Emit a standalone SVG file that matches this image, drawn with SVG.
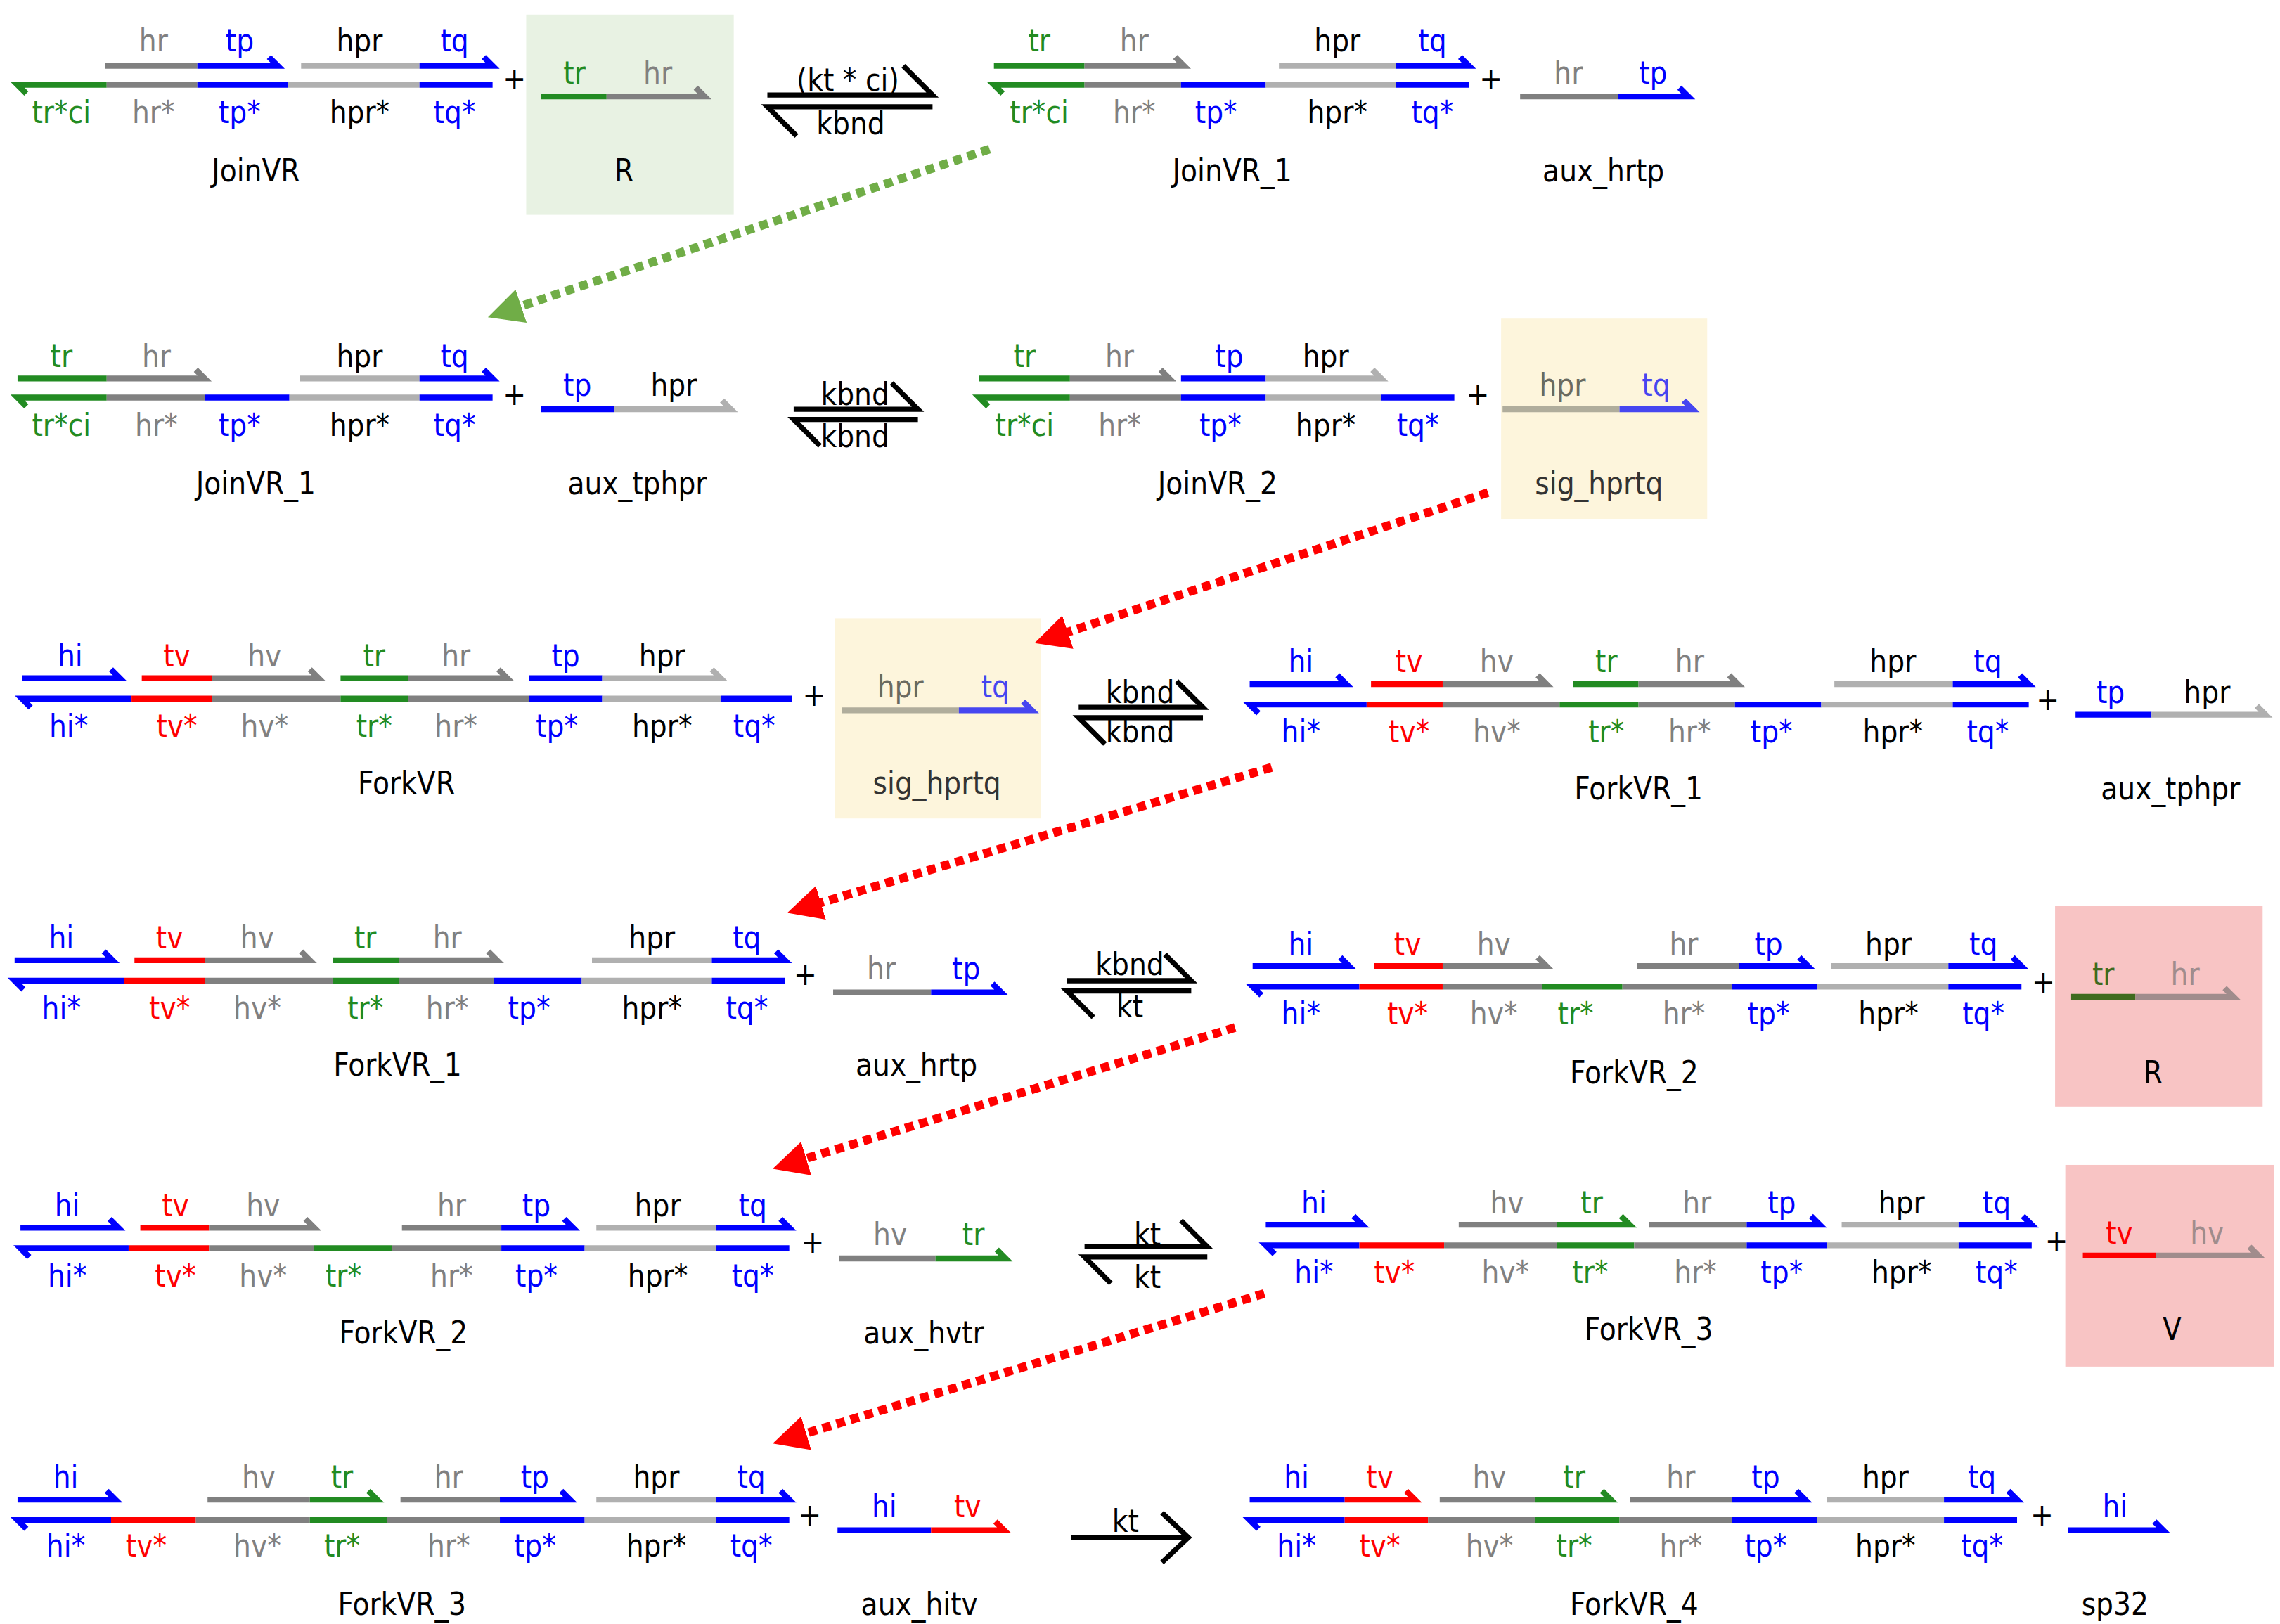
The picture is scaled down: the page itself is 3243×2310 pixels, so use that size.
<svg xmlns="http://www.w3.org/2000/svg" width="3243" height="2310" viewBox="0 0 3243 2310">
<style>
path{fill:none;stroke-width:4}
.b{stroke:#0000ff}.g{stroke:#228b22}.r{stroke:#ff0000}.k{stroke:#808080}.l{stroke:#b0b0b0}.o{stroke:#3f6b1f}.m{stroke:#a08c8c}.x{stroke:#000;stroke-width:3.5}
text{font-family:"DejaVu Sans Condensed","DejaVu Sans",sans-serif;font-size:21px;text-anchor:middle;fill:#000}
.tb{fill:#0000ff}.tg{fill:#228b22}.tr{fill:#ff0000}.tk{fill:#808080}.to{fill:#3f6b1f}.tm{fill:#a08c8c}.tq{fill:#4646f0}
.dg{stroke:#70ad47;stroke-width:6;stroke-dasharray:6 4}
.dr{stroke:#ff0000;stroke-width:6;stroke-dasharray:6 4}
</style>
<defs>
<marker id="ag" viewBox="0 0 10 10" refX="2" refY="5" markerWidth="4" markerHeight="4" orient="auto"><path d="M0,0L10,5L0,10z" style="fill:#70ad47;stroke:none"/></marker>
<marker id="ar" viewBox="0 0 10 10" refX="2" refY="5" markerWidth="4" markerHeight="4" orient="auto"><path d="M0,0L10,5L0,10z" style="fill:#ff0000;stroke:none"/></marker>
</defs>
<rect width="3243" height="2310" fill="#fff"/>
<g transform="scale(2.079)">
<g id="JoinVR">
<path class="k" d="M72 45H135"/><path class="b" d="M135 45H190l-6-6"/><path class="l" d="M206 45H287"/><path class="b" d="M287 45H337l-6-6"/>
<path class="g" d="M18 64l-6-6H73"/><path class="k" d="M73 58H135"/><path class="b" d="M135 58H197"/><path class="l" d="M197 58H287"/><path class="b" d="M287 58H337"/>
<text class="tk" x="105" y="35">hr</text><text class="tb" x="164" y="35">tp</text><text x="246" y="35">hpr</text><text class="tb" x="311" y="35">tq</text>
<text class="tg" x="42" y="84">tr*ci</text><text class="tk" x="105" y="84">hr*</text><text class="tb" x="164" y="84">tp*</text><text x="246" y="84">hpr*</text><text class="tb" x="311" y="84">tq*</text>
<text x="175" y="124">JoinVR</text><text x="352" y="61">+</text>
</g>
<g id="R1">
<rect x="360" y="10" width="142" height="137" fill="#e8f2e3"/>
<path class="g" d="M370 66H415"/><path class="k" d="M415 66H482l-6-6"/>
<text class="tg" x="393" y="57">tr</text><text class="tk" x="450" y="57">hr</text><text x="427" y="124">R</text>
</g>
<g id="JoinVR_1a">
<path class="g" d="M680 45H742"/><path class="k" d="M742 45H810l-6-6"/><path class="l" d="M875 45H955"/><path class="b" d="M955 45H1005l-6-6"/>
<path class="g" d="M686 64l-6-6H742"/><path class="k" d="M742 58H808"/><path class="b" d="M808 58H866"/><path class="l" d="M866 58H955"/><path class="b" d="M955 58H1005"/>
<text class="tg" x="711" y="35">tr</text><text class="tk" x="776" y="35">hr</text><text x="915" y="35">hpr</text><text class="tb" x="980" y="35">tq</text>
<text class="tg" x="711" y="84">tr*ci</text><text class="tk" x="776" y="84">hr*</text><text class="tb" x="832" y="84">tp*</text><text x="915" y="84">hpr*</text><text class="tb" x="980" y="84">tq*</text>
<text x="843" y="124">JoinVR_1</text><text x="1020" y="61">+</text>
</g>
<g id="aux_hrtp1">
<path class="k" d="M1040 66H1107"/><path class="b" d="M1107 66H1155l-6-6"/>
<text class="tk" x="1073" y="57">hr</text><text class="tb" x="1131" y="57">tp</text><text x="1097" y="124">aux_hrtp</text>
</g>
<g id="JoinVR_1b">
<path class="g" d="M12 259H73"/><path class="k" d="M73 259H140l-6-6"/><path class="l" d="M205 259H287"/><path class="b" d="M287 259H337l-6-6"/>
<path class="g" d="M18 278l-6-6H73"/><path class="k" d="M73 272H140"/><path class="b" d="M140 272H198"/><path class="l" d="M198 272H287"/><path class="b" d="M287 272H337"/>
<text class="tg" x="42" y="251">tr</text><text class="tk" x="107" y="251">hr</text><text x="246" y="251">hpr</text><text class="tb" x="311" y="251">tq</text>
<text class="tg" x="42" y="298">tr*ci</text><text class="tk" x="107" y="298">hr*</text><text class="tb" x="164" y="298">tp*</text><text x="246" y="298">hpr*</text><text class="tb" x="311" y="298">tq*</text>
<text x="175" y="338">JoinVR_1</text><text x="352" y="277">+</text>
</g>
<g id="aux_tphpr1">
<path class="b" d="M370 280H420"/><path class="l" d="M420 280H500l-6-6"/>
<text class="tb" x="395" y="271">tp</text><text x="461" y="271">hpr</text><text x="436" y="338">aux_tphpr</text>
</g>
<g id="JoinVR_2">
<path class="g" d="M670 259H732"/><path class="k" d="M732 259H800l-6-6"/><path class="b" d="M808 259H866"/><path class="l" d="M866 259H945l-6-6"/>
<path class="g" d="M676 278l-6-6H732"/><path class="k" d="M732 272H808"/><path class="b" d="M808 272H866"/><path class="l" d="M866 272H945"/><path class="b" d="M945 272H995"/>
<text class="tg" x="701" y="251">tr</text><text class="tk" x="766" y="251">hr</text><text class="tb" x="841" y="251">tp</text><text x="907" y="251">hpr</text>
<text class="tg" x="701" y="298">tr*ci</text><text class="tk" x="766" y="298">hr*</text><text class="tb" x="835" y="298">tp*</text><text x="907" y="298">hpr*</text><text class="tb" x="970" y="298">tq*</text>
<text x="833" y="338">JoinVR_2</text><text x="1011" y="277">+</text>
</g>
<g id="sig_hprtq1">
<rect x="1027" y="218" width="141" height="137" fill="#fdf5dc"/>
<path class="l" d="M1028 280H1108" style="stroke:#b0ad9c"/><path class="b" d="M1108 280H1158l-6-6" style="stroke:#4646f0"/>
<text class="tk" x="1069" y="271" style="fill:#6a6a60">hpr</text><text class="tq" x="1133" y="271">tq</text><text x="1094" y="338" style="fill:#333">sig_hprtq</text>
</g>
<g id="ForkVR">
<path class="b" d="M15 464H82l-6-6"/><path class="r" d="M97 464H145"/><path class="k" d="M145 464H218l-6-6"/><path class="g" d="M233 464H279"/><path class="k" d="M279 464H347l-6-6"/><path class="b" d="M362 464H412"/><path class="l" d="M412 464H493l-6-6"/>
<path class="b" d="M21 484l-6-6H90"/><path class="r" d="M90 478H145"/><path class="k" d="M145 478H233"/><path class="g" d="M233 478H279"/><path class="k" d="M279 478H362"/><path class="b" d="M362 478H412"/><path class="l" d="M412 478H493"/><path class="b" d="M493 478H542"/>
<text class="tb" x="48" y="456">hi</text><text class="tr" x="121" y="456">tv</text><text class="tk" x="181" y="456">hv</text><text class="tg" x="256" y="456">tr</text><text class="tk" x="312" y="456">hr</text><text class="tb" x="387" y="456">tp</text><text x="453" y="456">hpr</text>
<text class="tb" x="47" y="504">hi*</text><text class="tr" x="121" y="504">tv*</text><text class="tk" x="181" y="504">hv*</text><text class="tg" x="256" y="504">tr*</text><text class="tk" x="312" y="504">hr*</text><text class="tb" x="381" y="504">tp*</text><text x="453" y="504">hpr*</text><text class="tb" x="516" y="504">tq*</text>
<text x="278" y="543">ForkVR</text><text x="557" y="483">+</text>
</g>
<g id="sig_hprtq2">
<rect x="571" y="423" width="141" height="137" fill="#fdf5dc"/>
<path class="l" d="M576 486H656" style="stroke:#b0ad9c"/><path class="b" d="M656 486H706l-6-6" style="stroke:#4646f0"/>
<text x="616" y="477" style="fill:#6a6a60">hpr</text><text class="tq" x="681" y="477">tq</text><text x="641" y="543" style="fill:#333">sig_hprtq</text>
</g>
<g id="ForkVR_1a">
<path class="b" d="M855 468H921l-6-6"/><path class="r" d="M938 468H987"/><path class="k" d="M987 468H1058l-6-6"/><path class="g" d="M1076 468H1121"/><path class="k" d="M1121 468H1189l-6-6"/><path class="l" d="M1255 468H1336"/><path class="b" d="M1336 468H1388l-6-6"/>
<path class="b" d="M861 488l-6-6H935"/><path class="r" d="M935 482H987"/><path class="k" d="M987 482H1067"/><path class="g" d="M1067 482H1121"/><path class="k" d="M1121 482H1187"/><path class="b" d="M1187 482H1246"/><path class="l" d="M1246 482H1336"/><path class="b" d="M1336 482H1388"/>
<text class="tb" x="890" y="460">hi</text><text class="tr" x="964" y="460">tv</text><text class="tk" x="1024" y="460">hv</text><text class="tg" x="1099" y="460">tr</text><text class="tk" x="1156" y="460">hr</text><text x="1295" y="460">hpr</text><text class="tb" x="1360" y="460">tq</text>
<text class="tb" x="890" y="508">hi*</text><text class="tr" x="964" y="508">tv*</text><text class="tk" x="1024" y="508">hv*</text><text class="tg" x="1099" y="508">tr*</text><text class="tk" x="1156" y="508">hr*</text><text class="tb" x="1212" y="508">tp*</text><text x="1295" y="508">hpr*</text><text class="tb" x="1360" y="508">tq*</text>
<text x="1121" y="547">ForkVR_1</text><text x="1401" y="486">+</text>
</g>
<g id="aux_tphpr2">
<path class="b" d="M1420 489H1472"/><path class="l" d="M1472 489H1550l-6-6"/>
<text class="tb" x="1444" y="481">tp</text><text x="1510" y="481">hpr</text><text x="1485" y="547">aux_tphpr</text>
</g>
<g id="ForkVR_1b">
<path class="b" d="M10 657H77l-6-6"/><path class="r" d="M92 657H140"/><path class="k" d="M140 657H212l-6-6"/><path class="g" d="M228 657H273"/><path class="k" d="M273 657H340l-6-6"/><path class="l" d="M405 657H487"/><path class="b" d="M487 657H537l-6-6"/>
<path class="b" d="M16 677l-6-6H85"/><path class="r" d="M85 671H140"/><path class="k" d="M140 671H228"/><path class="g" d="M228 671H273"/><path class="k" d="M273 671H338"/><path class="b" d="M338 671H398"/><path class="l" d="M398 671H487"/><path class="b" d="M487 671H537"/>
<text class="tb" x="42" y="649">hi</text><text class="tr" x="116" y="649">tv</text><text class="tk" x="176" y="649">hv</text><text class="tg" x="250" y="649">tr</text><text class="tk" x="306" y="649">hr</text><text x="446" y="649">hpr</text><text class="tb" x="511" y="649">tq</text>
<text class="tb" x="42" y="697">hi*</text><text class="tr" x="116" y="697">tv*</text><text class="tk" x="176" y="697">hv*</text><text class="tg" x="250" y="697">tr*</text><text class="tk" x="306" y="697">hr*</text><text class="tb" x="362" y="697">tp*</text><text x="446" y="697">hpr*</text><text class="tb" x="511" y="697">tq*</text>
<text x="272" y="736">ForkVR_1</text><text x="551" y="674">+</text>
</g>
<g id="aux_hrtp2">
<path class="k" d="M570 679H637"/><path class="b" d="M637 679H685l-6-6"/>
<text class="tk" x="603" y="670">hr</text><text class="tb" x="661" y="670">tp</text><text x="627" y="736">aux_hrtp</text>
</g>
<g id="ForkVR_2a">
<path class="b" d="M857 661H923l-6-6"/><path class="r" d="M940 661H987"/><path class="k" d="M987 661H1058l-6-6"/><path class="k" d="M1120 661H1190"/><path class="b" d="M1190 661H1237l-6-6"/><path class="l" d="M1253 661H1333"/><path class="b" d="M1333 661H1383l-6-6"/>
<path class="b" d="M863 681l-6-6H930"/><path class="r" d="M930 675H987"/><path class="k" d="M987 675H1055"/><path class="g" d="M1055 675H1110"/><path class="k" d="M1110 675H1185"/><path class="b" d="M1185 675H1243"/><path class="l" d="M1243 675H1333"/><path class="b" d="M1333 675H1383"/>
<text class="tb" x="890" y="653">hi</text><text class="tr" x="963" y="653">tv</text><text class="tk" x="1022" y="653">hv</text><text class="tk" x="1152" y="653">hr</text><text class="tb" x="1210" y="653">tp</text><text x="1292" y="653">hpr</text><text class="tb" x="1357" y="653">tq</text>
<text class="tb" x="890" y="701">hi*</text><text class="tr" x="963" y="701">tv*</text><text class="tk" x="1022" y="701">hv*</text><text class="tg" x="1078" y="701">tr*</text><text class="tk" x="1152" y="701">hr*</text><text class="tb" x="1210" y="701">tp*</text><text x="1292" y="701">hpr*</text><text class="tb" x="1357" y="701">tq*</text>
<text x="1118" y="741">ForkVR_2</text><text x="1398" y="679">+</text>
</g>
<g id="R2">
<rect x="1406" y="620" width="142" height="137" fill="#f8c4c4"/>
<path class="o" d="M1417 682H1461"/><path class="m" d="M1461 682H1528l-6-6"/>
<text class="to" x="1439" y="674">tr</text><text class="tm" x="1495" y="674">hr</text><text x="1473" y="741">R</text>
</g>
<g id="ForkVR_2b">
<path class="b" d="M14 840H81l-6-6"/><path class="r" d="M96 840H143"/><path class="k" d="M143 840H215l-6-6"/><path class="k" d="M275 840H343"/><path class="b" d="M343 840H392l-6-6"/><path class="l" d="M408 840H490"/><path class="b" d="M490 840H540l-6-6"/>
<path class="b" d="M20 860l-6-6H88"/><path class="r" d="M88 854H143"/><path class="k" d="M143 854H215"/><path class="g" d="M215 854H268"/><path class="k" d="M268 854H343"/><path class="b" d="M343 854H400"/><path class="l" d="M400 854H490"/><path class="b" d="M490 854H540"/>
<text class="tb" x="46" y="832">hi</text><text class="tr" x="120" y="832">tv</text><text class="tk" x="180" y="832">hv</text><text class="tk" x="309" y="832">hr</text><text class="tb" x="367" y="832">tp</text><text x="450" y="832">hpr</text><text class="tb" x="515" y="832">tq</text>
<text class="tb" x="46" y="880">hi*</text><text class="tr" x="120" y="880">tv*</text><text class="tk" x="180" y="880">hv*</text><text class="tg" x="235" y="880">tr*</text><text class="tk" x="309" y="880">hr*</text><text class="tb" x="367" y="880">tp*</text><text x="450" y="880">hpr*</text><text class="tb" x="515" y="880">tq*</text>
<text x="276" y="919">ForkVR_2</text><text x="556" y="857">+</text>
</g>
<g id="aux_hvtr">
<path class="k" d="M574 861H640"/><path class="g" d="M640 861H688l-6-6"/>
<text class="tk" x="609" y="852">hv</text><text class="tg" x="666" y="852">tr</text><text x="632" y="919">aux_hvtr</text>
</g>
<g id="ForkVR_3a">
<path class="b" d="M866 838H932l-6-6"/><path class="k" d="M998 838H1065"/><path class="g" d="M1065 838H1115l-6-6"/><path class="k" d="M1128 838H1195"/><path class="b" d="M1195 838H1245l-6-6"/><path class="l" d="M1260 838H1340"/><path class="b" d="M1340 838H1390l-6-6"/>
<path class="b" d="M872 858l-6-6H930"/><path class="r" d="M930 852H988"/><path class="k" d="M988 852H1065"/><path class="g" d="M1065 852H1118"/><path class="k" d="M1118 852H1195"/><path class="b" d="M1195 852H1250"/><path class="l" d="M1250 852H1340"/><path class="b" d="M1340 852H1390"/>
<text class="tb" x="899" y="830">hi</text><text class="tk" x="1031" y="830">hv</text><text class="tg" x="1089" y="830">tr</text><text class="tk" x="1161" y="830">hr</text><text class="tb" x="1219" y="830">tp</text><text x="1301" y="830">hpr</text><text class="tb" x="1366" y="830">tq</text>
<text class="tb" x="899" y="878">hi*</text><text class="tr" x="954" y="878">tv*</text><text class="tk" x="1030" y="878">hv*</text><text class="tg" x="1088" y="878">tr*</text><text class="tk" x="1160" y="878">hr*</text><text class="tb" x="1219" y="878">tp*</text><text x="1301" y="878">hpr*</text><text class="tb" x="1366" y="878">tq*</text>
<text x="1128" y="917">ForkVR_3</text><text x="1407" y="856">+</text>
</g>
<g id="V">
<rect x="1413" y="797" width="143" height="138" fill="#f8c4c4"/>
<path class="r" d="M1425 859H1475"/><path class="m" d="M1475 859H1545l-6-6"/>
<text class="tr" x="1450" y="851">tv</text><text class="tm" x="1510" y="851">hv</text><text x="1486" y="917">V</text>
</g>
<g id="ForkVR_3b">
<path class="b" d="M12 1026H79l-6-6"/><path class="k" d="M142 1026H212"/><path class="g" d="M212 1026H258l-6-6"/><path class="k" d="M274 1026H342"/><path class="b" d="M342 1026H390l-6-6"/><path class="l" d="M408 1026H490"/><path class="b" d="M490 1026H540l-6-6"/>
<path class="b" d="M18 1046l-6-6H76"/><path class="r" d="M76 1040H134"/><path class="k" d="M134 1040H212"/><path class="g" d="M212 1040H265"/><path class="k" d="M265 1040H342"/><path class="b" d="M342 1040H400"/><path class="l" d="M400 1040H490"/><path class="b" d="M490 1040H540"/>
<text class="tb" x="45" y="1018">hi</text><text class="tk" x="177" y="1018">hv</text><text class="tg" x="234" y="1018">tr</text><text class="tk" x="307" y="1018">hr</text><text class="tb" x="366" y="1018">tp</text><text x="449" y="1018">hpr</text><text class="tb" x="514" y="1018">tq</text>
<text class="tb" x="45" y="1065">hi*</text><text class="tr" x="100" y="1065">tv*</text><text class="tk" x="176" y="1065">hv*</text><text class="tg" x="234" y="1065">tr*</text><text class="tk" x="307" y="1065">hr*</text><text class="tb" x="366" y="1065">tp*</text><text x="449" y="1065">hpr*</text><text class="tb" x="514" y="1065">tq*</text>
<text x="275" y="1105">ForkVR_3</text><text x="554" y="1044">+</text>
</g>
<g id="aux_hitv">
<path class="b" d="M573 1047H637"/><path class="r" d="M637 1047H687l-6-6"/>
<text class="tb" x="605" y="1038">hi</text><text class="tr" x="662" y="1038">tv</text><text x="629" y="1105">aux_hitv</text>
</g>
<g id="ForkVR_4">
<path class="b" d="M855 1026H920"/><path class="r" d="M920 1026H968l-6-6"/><path class="k" d="M985 1026H1050"/><path class="g" d="M1050 1026H1102l-6-6"/><path class="k" d="M1115 1026H1185"/><path class="b" d="M1185 1026H1235l-6-6"/><path class="l" d="M1250 1026H1330"/><path class="b" d="M1330 1026H1380l-6-6"/>
<path class="b" d="M861 1046l-6-6H920"/><path class="r" d="M920 1040H977"/><path class="k" d="M977 1040H1050"/><path class="g" d="M1050 1040H1108"/><path class="k" d="M1108 1040H1185"/><path class="b" d="M1185 1040H1243"/><path class="l" d="M1243 1040H1330"/><path class="b" d="M1330 1040H1380"/>
<text class="tb" x="887" y="1018">hi</text><text class="tr" x="944" y="1018">tv</text><text class="tk" x="1019" y="1018">hv</text><text class="tg" x="1077" y="1018">tr</text><text class="tk" x="1150" y="1018">hr</text><text class="tb" x="1208" y="1018">tp</text><text x="1290" y="1018">hpr</text><text class="tb" x="1356" y="1018">tq</text>
<text class="tb" x="887" y="1065">hi*</text><text class="tr" x="944" y="1065">tv*</text><text class="tk" x="1019" y="1065">hv*</text><text class="tg" x="1077" y="1065">tr*</text><text class="tk" x="1150" y="1065">hr*</text><text class="tb" x="1208" y="1065">tp*</text><text x="1290" y="1065">hpr*</text><text class="tb" x="1356" y="1065">tq*</text>
<text x="1118" y="1105">ForkVR_4</text><text x="1397" y="1044">+</text>
</g>
<g id="sp32">
<path class="b" d="M1415 1047H1480l-6-6"/>
<text class="tb" x="1447" y="1038">hi</text><text x="1447" y="1105">sp32</text>
</g>
<g id="connectors">
<path class="x" d="M525 65H638L618 45"/><path class="x" d="M638 73H525L545 93"/>
<text x="580" y="62">(kt * ci)</text><text x="582" y="92">kbnd</text>
<path class="x" d="M543 280H628L610 262"/><path class="x" d="M628 287H543L561 305"/>
<text x="585" y="277">kbnd</text><text x="585" y="306">kbnd</text>
<path class="x" d="M738 484H823L805 466"/><path class="x" d="M823 491H738L756 509"/>
<text x="780" y="481">kbnd</text><text x="780" y="508">kbnd</text>
<path class="x" d="M730 671H815L797 653"/><path class="x" d="M815 678H730L748 696"/>
<text x="773" y="667">kbnd</text><text x="773" y="696">kt</text>
<path class="x" d="M742 853H826L808 835"/><path class="x" d="M826 860H742L760 878"/>
<text x="785" y="852">kt</text><text x="785" y="881">kt</text>
<path class="x" d="M733 1052H812M795 1035L813 1052L795 1069"/>
<text x="770" y="1048">kt</text>
<path class="dg" d="M677 102L352 211" marker-end="url(#ag)"/>
<path class="dr" d="M1018 337L726 434" marker-end="url(#ar)"/>
<path class="dr" d="M870 525L557 619" marker-end="url(#ar)"/>
<path class="dr" d="M845 703L547 794" marker-end="url(#ar)"/>
<path class="dr" d="M865 885L547 982" marker-end="url(#ar)"/>
</g>
</g>
</svg>
